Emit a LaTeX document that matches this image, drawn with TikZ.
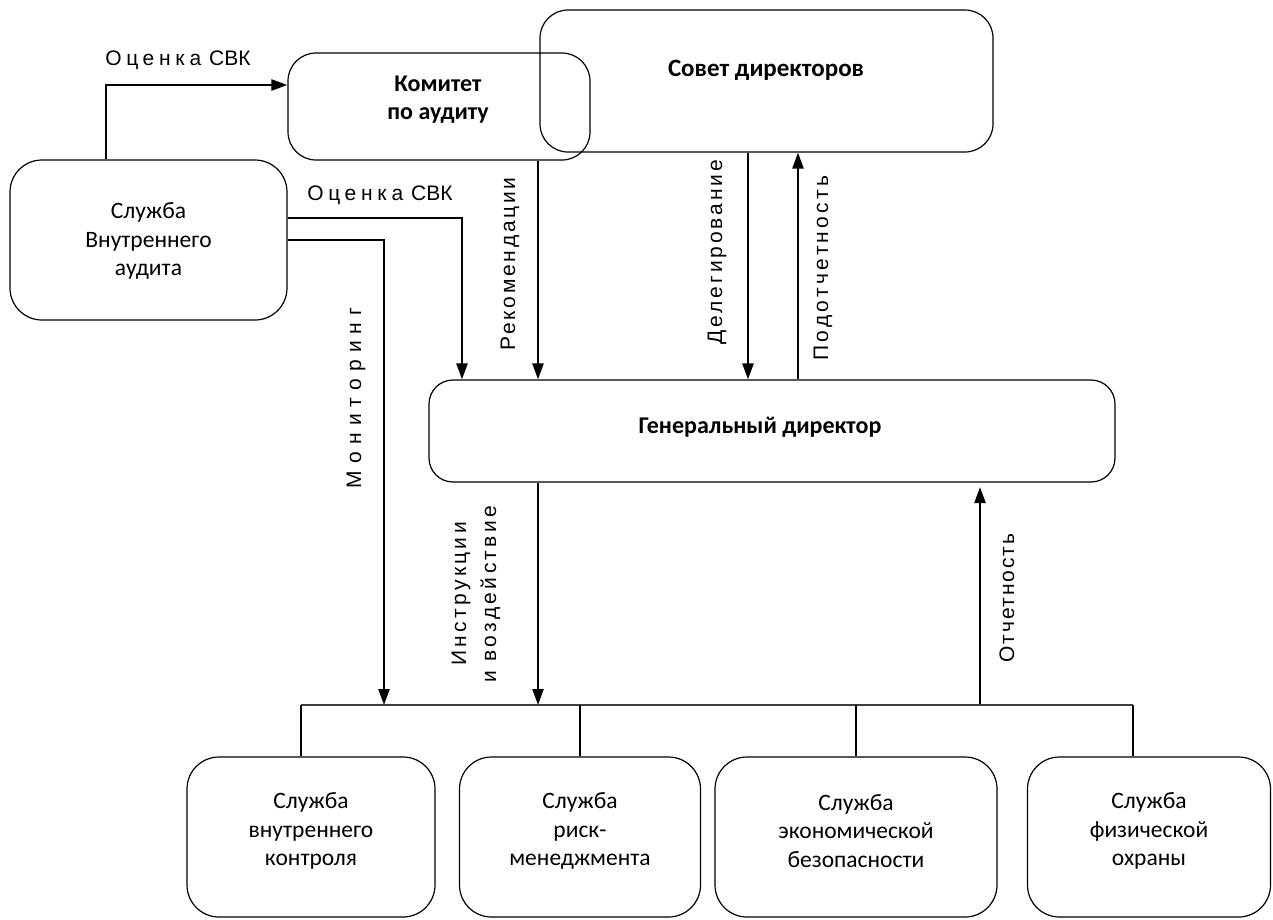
\documentclass[tikz,border=0pt]{standalone}
\usepackage{fontspec}
\setmainfont{Carlito}
\newfontfamily\lblfont{Liberation Sans}
\usetikzlibrary{arrows.meta}
\begin{document}
\begin{tikzpicture}[x=1pt,y=-1pt,
  box/.style={draw, line width=1.2pt, rounded corners=#1, inner sep=0pt},
  box/.default=32pt,
  txt/.style={align=center, inner sep=0pt, font=\fontsize{23.5}{28.5}\selectfont},
  btxt/.style={align=center, inner sep=0pt, font=\fontsize{24}{28}\selectfont\bfseries},
  arr/.style={line width=2.4pt, -{Triangle[length=16pt,width=11pt]}},
  thin/.style={line width=1.1pt},
  bus/.style={line width=2.2pt, draw=black!75},
  lbl/.style={inner sep=0pt, align=center},
  ls/.style={font=\fontsize{21}{30}\lblfont\addfontfeature{LetterSpace=#1}}]
\useasboundingbox (0,0) rectangle (1273,919);

% boxes
\node[box, minimum width=277pt, minimum height=160pt] (sva) at (148.5,240) {};
\node[txt] (svat) at (148.5,241) {Служба\\Внутреннего\\аудита};
\node[box=28pt, minimum width=302pt, minimum height=107pt] (kom) at (439,106.5) {};
\node[btxt] (komt) at (438,100) {Комитет\\по аудиту};
\node[box=28pt, minimum width=453pt, minimum height=142pt] (sov) at (766.5,81) {};
\node[btxt, font=\fontsize{25}{28}\selectfont\bfseries] (sovt) at (766,70) {Совет директоров};
\node[box=24pt, minimum width=686pt, minimum height=102pt] (gd) at (772,431) {};
\node[btxt] (gdt) at (760,427) {Генеральный директор};
\node[box, minimum width=248pt, minimum height=160pt] (b1) at (311,837) {};
\node[box, minimum width=241pt, minimum height=160pt] (b2) at (580,837) {};
\node[box, minimum width=282pt, minimum height=160pt] (b3) at (856,837) {};
\node[box, minimum width=243pt, minimum height=160pt] (b4) at (1149,837) {};
\node[txt] (t1) at (311,831) {Служба\\внутреннего\\контроля};
\node[txt] (t2) at (580,831) {Служба\\риск-\\менеджмента};
\node[txt] (t3) at (856,831) {Служба\\экономической\\безопасности};
\node[txt] (t4) at (1149,831) {Служба\\физической\\охраны};

% helper coordinates
\coordinate (c1) at (106,85);
\coordinate (c2) at (462,218);
\coordinate (c3) at (384,240);
\coordinate (c4) at (538,0);
\coordinate (c5) at (748,0);
\coordinate (c6) at (798,0);
\coordinate (c7) at (980,487);
\coordinate (busL) at (301,705);
\coordinate (busR) at (1133,705);
\coordinate (m1) at (384,705);
\coordinate (m2) at (538,705);
\coordinate (m3) at (980,705);

% connectors
\draw[arr] (sva.north -| c1) |- (kom.west |- c1);
\draw[arr] (sva.east |- c2) -| (gd.north -| c2);
\draw[arr] (sva.east |- c3) -| (m1);
\draw[arr] (kom.south -| c4) -- (gd.north -| c4);
\draw[arr] (sov.south -| c5) -- (gd.north -| c5);
\draw[arr] (gd.north -| c6) -- (sov.south -| c6);
\draw[arr] (gd.south -| m2) -- (m2);
\draw[arr] (m3) -- (c7);

\draw[bus] (busL) -- (busR);
\draw[thin] (busL) -- (b1.north -| busL);
\draw[thin] (b2.north |- busL) -- (b2.north);
\draw[thin] (b3.north |- busL) -- (b3.north);
\draw[thin] (busR) -- (b4.north -| busR);

% labels
\node[lbl, ls=22] (l1) at (178,60) {Оценка\hspace{8pt}{\fontsize{21}{28}\lblfont СВК}};
\node[lbl, ls=22] (l2) at (380,195) {Оценка\hspace{8pt}{\fontsize{21}{28}\lblfont СВК}};
\node[lbl, ls=34, rotate=90] (l3) at (356,398) {Мониторинг};
\node[lbl, ls=13, rotate=90] (l4) at (510,264) {Рекомендации};
\node[lbl, ls=14, rotate=90] (l5) at (717,252) {Делегирование};
\node[lbl, ls=16, rotate=90] (l6) at (823,268) {Подотчетность};
\node[lbl, ls=16, rotate=90] (l7) at (476,594) {Инструкции\\и воздействие};
\node[lbl, ls=9, rotate=90] (l8) at (1007,598) {Отчетность};
\end{tikzpicture}
\end{document}
